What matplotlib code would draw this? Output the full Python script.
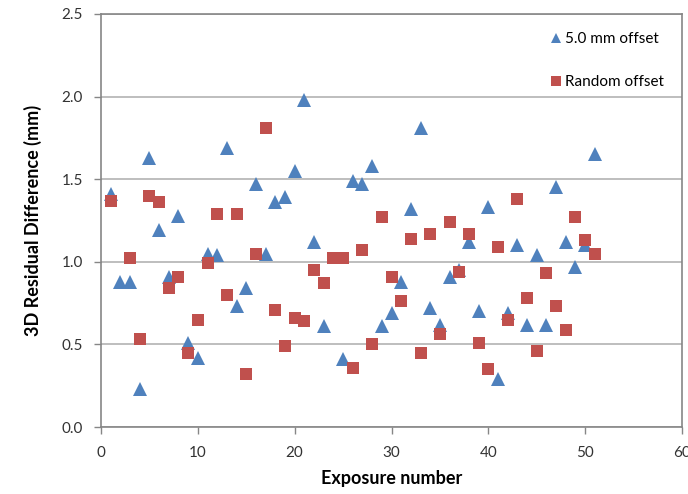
import matplotlib.pyplot as plt

plt.rcParams['font.family'] = ['Lato', 'DejaVu Sans']

# 5.0 mm offset (blue triangles)
blue_x = [1, 2, 3, 4, 5, 6, 7, 8, 9, 10, 11, 12, 13, 14, 15, 16, 17, 18, 19, 20,
          21, 22, 23, 25, 26, 27, 28, 29, 30, 31, 32, 33, 34, 35, 36, 37, 38, 39, 40,
          41, 42, 43, 44, 45, 46, 47, 48, 49, 50, 51]
blue_y = [1.41, 0.88, 0.88, 0.23, 1.63, 1.19, 0.91, 1.28, 0.51, 0.42, 1.05, 1.04, 1.69, 0.73, 0.84, 1.47, 1.05, 1.36, 1.39, 1.55,
          1.98, 1.12, 0.61, 0.41, 1.49, 1.47, 1.58, 0.61, 0.69, 0.88, 1.32, 1.81, 0.72, 0.62, 0.91, 0.95, 1.12, 0.70, 1.33,
          0.29, 0.69, 1.10, 0.62, 1.04, 0.62, 1.45, 1.12, 0.97, 1.10, 1.65]

# Random offset (red squares)
red_x = [1, 3, 4, 5, 6, 7, 8, 9, 10, 11, 12, 13, 14, 15, 16, 17, 18, 19, 20,
         21, 22, 23, 24, 25, 26, 27, 28, 29, 30, 31, 32, 33, 34, 35, 36, 37, 38, 39, 40,
         41, 42, 43, 44, 45, 46, 47, 48, 49, 50, 51]
red_y = [1.37, 1.02, 0.53, 1.40, 1.36, 0.84, 0.91, 0.45, 0.65, 0.99, 1.29, 0.80, 1.29, 0.32, 1.05, 1.81, 0.71, 0.49, 0.66,
         0.64, 0.95, 0.87, 1.02, 1.02, 0.36, 1.07, 0.50, 1.27, 0.91, 0.76, 1.14, 0.45, 1.17, 0.56, 1.24, 0.94, 1.17, 0.51, 0.35,
         1.09, 0.65, 1.38, 0.78, 0.46, 0.93, 0.73, 0.59, 1.27, 1.13, 1.05]

blue = '#4f81bd'
red = '#c0504d'
grey = '#868686'

fig = plt.figure(figsize=(6.88, 4.94), dpi=100)
ax = fig.add_axes([0.1468, 0.1356, 0.8445, 0.8361])

ax.plot(blue_x, blue_y, linestyle='none', marker='^', markersize=10,
        color=blue, markeredgewidth=0, label='5.0 mm offset', zorder=3)
ax.plot(red_x, red_y, linestyle='none', marker='s', markersize=9.3,
        color=red, markeredgewidth=0, label='Random offset', zorder=4)

ax.set_xlim(0, 60)
ax.set_ylim(0, 2.5)
ax.set_xticks(range(0, 61, 10))
ax.set_yticks([0.0, 0.5, 1.0, 1.5, 2.0, 2.5])
ax.set_yticklabels(['0.0', '0.5', '1.0', '1.5', '2.0', '2.5'])
ax.grid(axis='y', color='#b3b3b3', linewidth=1.2)
ax.set_axisbelow(True)

for side in ax.spines.values():
    side.set_color(grey)
    side.set_linewidth(1.2)

ax.tick_params(axis='both', colors=grey, labelcolor='#333333', labelsize=11,
               length=5, width=1)
ax.tick_params(axis='y', pad=8)
ax.tick_params(axis='x', pad=9)

ax.set_xlabel('Exposure number', fontsize=13, fontweight='bold', labelpad=7)
ax.set_ylabel('3D Residual Difference (mm)', fontsize=13, fontweight='bold', labelpad=14)

leg = ax.legend(loc='upper right', bbox_to_anchor=(1.0, 1.0), frameon=False,
                fontsize=11, handlelength=0.6, handletextpad=0.3,
                labelspacing=1.9, borderaxespad=0.8, markerscale=0.75)

fig.savefig('out.png', dpi=100)
